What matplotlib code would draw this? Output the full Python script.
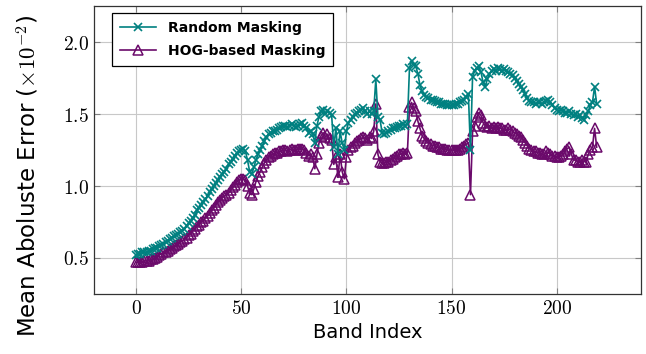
import numpy as np
import matplotlib.pyplot as plt
from matplotlib.ticker import FuncFormatter

# Band indices
bands = np.arange(0, 220)

# Mean absolute error (x1e-2) per band
random_masking = [
    0.52, 0.53, 0.53, 0.54, 0.54, 0.54, 0.55, 0.55, 0.56, 0.57,
    0.57, 0.58, 0.59, 0.60, 0.61, 0.62, 0.63, 0.64, 0.65, 0.66,
    0.67, 0.68, 0.69, 0.70, 0.72, 0.74, 0.76, 0.78, 0.80, 0.83,
    0.85, 0.87, 0.89, 0.91, 0.93, 0.96, 0.98, 1.00, 1.02, 1.04,
    1.06, 1.08, 1.10, 1.12, 1.15, 1.17, 1.19, 1.21, 1.23, 1.24,
    1.25, 1.26, 1.24, 1.18, 1.10, 1.08, 1.13, 1.18, 1.22, 1.25,
    1.28, 1.31, 1.34, 1.36, 1.37, 1.38, 1.38, 1.39, 1.40, 1.41,
    1.42, 1.42, 1.41, 1.42, 1.43, 1.42, 1.41, 1.42, 1.43, 1.44,
    1.42, 1.40, 1.37, 1.38, 1.36, 1.30, 1.42, 1.48, 1.52, 1.53,
    1.50, 1.52, 1.51, 1.49, 1.27, 1.40, 1.22, 1.38, 1.30, 1.25,
    1.38, 1.44, 1.46, 1.48, 1.50, 1.51, 1.52, 1.53, 1.54, 1.52,
    1.50, 1.52, 1.50, 1.52, 1.74, 1.48, 1.46, 1.37, 1.36, 1.37,
    1.38, 1.39, 1.40, 1.40, 1.41, 1.42, 1.42, 1.43, 1.42, 1.43,
    1.82, 1.87, 1.84, 1.83, 1.78, 1.70, 1.66, 1.63, 1.62, 1.61,
    1.60, 1.60, 1.59, 1.58, 1.58, 1.57, 1.57, 1.57, 1.56, 1.56,
    1.56, 1.56, 1.57, 1.57, 1.58, 1.59, 1.60, 1.62, 1.64, 1.25,
    1.76, 1.80, 1.82, 1.83, 1.79, 1.72, 1.69, 1.74, 1.78, 1.80,
    1.81, 1.80, 1.82, 1.81, 1.80, 1.81, 1.80, 1.79, 1.78, 1.77,
    1.75, 1.73, 1.71, 1.69, 1.67, 1.64, 1.61, 1.59, 1.58, 1.58,
    1.57, 1.58, 1.58, 1.57, 1.58, 1.59, 1.60, 1.58, 1.56, 1.54,
    1.53, 1.52, 1.53, 1.52, 1.51, 1.51, 1.52, 1.50, 1.49, 1.50,
    1.48, 1.49, 1.47, 1.46, 1.49, 1.52, 1.56, 1.58, 1.69, 1.57,
]

hog_masking = [
    0.47, 0.47, 0.47, 0.47, 0.48, 0.48, 0.48, 0.49, 0.49, 0.50,
    0.51, 0.52, 0.53, 0.54, 0.54, 0.55, 0.56, 0.57, 0.58, 0.59,
    0.60, 0.61, 0.62, 0.63, 0.64, 0.66, 0.67, 0.69, 0.70, 0.72,
    0.73, 0.75, 0.76, 0.78, 0.79, 0.81, 0.83, 0.85, 0.87, 0.89,
    0.90, 0.92, 0.93, 0.94, 0.95, 0.97, 0.99, 1.01, 1.03, 1.04,
    1.05, 1.05, 1.04, 1.00, 0.95, 0.94, 0.98, 1.03, 1.07, 1.10,
    1.13, 1.16, 1.18, 1.20, 1.21, 1.22, 1.23, 1.23, 1.24, 1.24,
    1.25, 1.25, 1.24, 1.25, 1.26, 1.25, 1.25, 1.26, 1.26, 1.26,
    1.25, 1.23, 1.21, 1.22, 1.20, 1.12, 1.22, 1.30, 1.35, 1.37,
    1.34, 1.36, 1.33, 1.32, 1.15, 1.20, 1.06, 1.22, 1.10, 1.05,
    1.20, 1.25, 1.27, 1.28, 1.30, 1.31, 1.32, 1.33, 1.34, 1.33,
    1.32, 1.34, 1.33, 1.38, 1.57, 1.22, 1.17, 1.16, 1.16, 1.17,
    1.17, 1.18, 1.19, 1.20, 1.21, 1.22, 1.22, 1.23, 1.22, 1.23,
    1.55, 1.58, 1.54, 1.52, 1.45, 1.40, 1.35, 1.33, 1.31, 1.30,
    1.29, 1.28, 1.28, 1.27, 1.27, 1.26, 1.26, 1.26, 1.25, 1.25,
    1.25, 1.25, 1.25, 1.25, 1.26, 1.27, 1.28, 1.29, 1.30, 0.94,
    1.38, 1.42, 1.48, 1.51, 1.49, 1.44, 1.42, 1.41, 1.42, 1.40,
    1.41, 1.40, 1.41, 1.40, 1.40, 1.39, 1.39, 1.40, 1.39, 1.38,
    1.37, 1.36, 1.35, 1.34, 1.32, 1.30, 1.28, 1.26, 1.25, 1.24,
    1.24, 1.23, 1.23, 1.22, 1.22, 1.24, 1.23, 1.22, 1.21, 1.21,
    1.20, 1.20, 1.21, 1.22, 1.24, 1.26, 1.27, 1.22, 1.18, 1.18,
    1.17, 1.17, 1.18, 1.17, 1.17, 1.22, 1.25, 1.27, 1.40, 1.27,
]

xticks = [0, 50, 100, 150, 200]
yticks = [0.5, 1.0, 1.5, 2.0]

plt.rcParams['mathtext.fontset'] = 'cm'

fig = plt.figure(figsize=(6.46, 3.54), dpi=100)
ax = fig.add_axes([0.1455, 0.1695, 0.8465, 0.8135])

teal = '#008080'
purple = '#6b0a6b'

ax.plot(bands, random_masking, color=teal, lw=1.2, marker='x', ms=5.5, mew=1.2,
        label='Random Masking', zorder=3)
ax.plot(bands, hog_masking, color=purple, lw=1.2, marker='^', ms=6.5, mew=1.1,
        mfc='none', label='HOG-based Masking', zorder=2)

ax.set_xlim(-20, 240)
ax.set_ylim(0.25, 2.25)
ax.set_xticks(xticks)
ax.set_yticks(yticks)
ax.xaxis.set_major_formatter(FuncFormatter(lambda v, p: r'$%d$' % v))
ax.yaxis.set_major_formatter(FuncFormatter(lambda v, p: r'$%.1f$' % v))
ax.tick_params(labelsize=14, direction='in', length=4, color='#808080',
               top=True, right=True)
ax.grid(True, color='#c8c8c8', lw=0.8)
ax.set_axisbelow(True)
for s in ax.spines.values():
    s.set_color('#333333')
    s.set_linewidth(0.9)

ax.set_xlabel('Band Index', fontsize=14)
ax.set_ylabel(r'Mean Aboluste Error ($\times10^{-2}$)', fontsize=16.5)
ax.yaxis.set_label_coords(-0.097, 0.41)

leg = ax.legend(loc='upper left', bbox_to_anchor=(0.033, 0.976), borderaxespad=0,
                fancybox=False, edgecolor='black', framealpha=1,
                prop={'weight': 'bold', 'size': 10},
                handlelength=2.6, borderpad=0.6, labelspacing=0.6)
leg.get_frame().set_linewidth(0.9)

fig.savefig('out.png', dpi=100)
